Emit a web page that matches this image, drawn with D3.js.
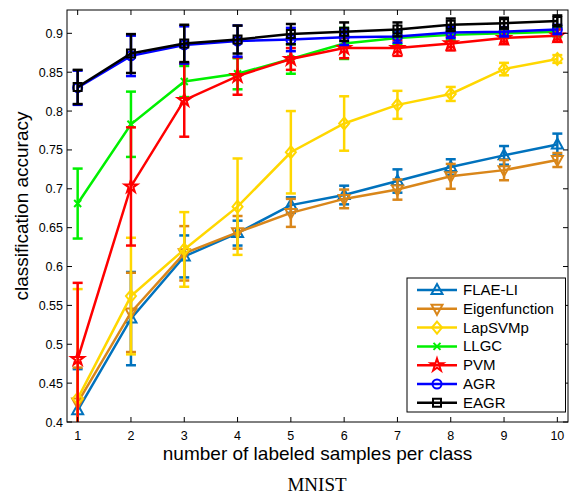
<!DOCTYPE html>
<html><head><meta charset="utf-8">
<script src="https://cdn.jsdelivr.net/npm/d3@7"></script>
<style>body{margin:0;background:#fff}svg{display:block}text{font-family:"Liberation Sans",Arial,sans-serif}</style>
</head><body>
<svg id="c" width="569" height="497"></svg>
<script>
const xValues = [1,2,3,4,5,6,7,8,9,10];
const yTicks = [0.4,0.45,0.5,0.55,0.6,0.65,0.7,0.75,0.8,0.85,0.9];
const seriesNames = ["FLAE-LI","Eigenfunction","LapSVMp","LLGC","PVM","AGR","EAGR"];
const seriesColors = ["#0072BD","#D9861A","#FFD700","#00F000","#FF0000","#0000FF","#000000"];
const seriesMarkers = ["triUp","triDown","diamond","cross","star","circle","square"];
const flaeMean  = [0.415,0.533,0.613,0.643,0.679,0.692,0.710,0.728,0.743,0.757];
const flaeErr   = [0.053,0.060,0.027,0.016,0.010,0.012,0.015,0.010,0.012,0.014];
const eigenMean = [0.425,0.541,0.617,0.644,0.669,0.687,0.699,0.716,0.724,0.737];
const eigenErr  = [0.045,0.051,0.035,0.021,0.018,0.012,0.013,0.016,0.013,0.009];
const lapMean   = [0.430,0.562,0.622,0.677,0.747,0.784,0.808,0.822,0.854,0.867];
const lapErr    = [0.141,0.075,0.048,0.062,0.053,0.035,0.018,0.009,0.008,0.005];
const llgcMean  = [0.681,0.783,0.838,0.848,0.867,0.887,0.894,0.898,0.900,0.902];
const llgcErr   = [0.045,0.042,0.020,0.020,0.019,0.020,0.008,0.007,0.006,0.006];
const pvmMean   = [0.481,0.703,0.814,0.845,0.867,0.881,0.881,0.887,0.894,0.897];
const pvmErr    = [0.098,0.076,0.047,0.024,0.014,0.013,0.010,0.009,0.008,0.008];
const agrMean   = [0.830,0.871,0.885,0.890,0.892,0.895,0.896,0.901,0.902,0.905];
const agrErr    = [0.022,0.026,0.024,0.020,0.015,0.010,0.008,0.007,0.006,0.006];
const eagrMean  = [0.831,0.874,0.887,0.892,0.899,0.902,0.905,0.911,0.913,0.916];
const eagrErr   = [0.022,0.025,0.024,0.018,0.013,0.012,0.009,0.008,0.007,0.007];

const means = [flaeMean,eigenMean,lapMean,llgcMean,pvmMean,agrMean,eagrMean];
const errs = [flaeErr,eigenErr,lapErr,llgcErr,pvmErr,agrErr,eagrErr];

const L=67,R=568,T=10,B=422;
const x = d3.scaleLinear().domain([0.8,10.2]).range([L,R]);
const y = d3.scaleLinear().domain([0.4,0.93]).range([B,T]);
const svg = d3.select("#c");

svg.append("defs").append("clipPath").attr("id","clip").append("rect")
  .attr("x",L).attr("y",T).attr("width",R-L).attr("height",B-T);

function markerPath(type){
  const p = d3.path();
  switch(type){
    case "triUp": p.moveTo(0,-6);p.lineTo(5.5,4);p.lineTo(-5.5,4);p.closePath();break;
    case "triDown": p.moveTo(0,6);p.lineTo(5.5,-4);p.lineTo(-5.5,-4);p.closePath();break;
    case "diamond": p.moveTo(0,-6);p.lineTo(5,0);p.lineTo(0,6);p.lineTo(-5,0);p.closePath();break;
    case "cross": p.moveTo(-3.5,-3.5);p.lineTo(3.5,3.5);p.moveTo(3.5,-3.5);p.lineTo(-3.5,3.5);break;
    case "circle": p.arc(0,0,4.5,0,2*Math.PI);break;
    case "square": p.rect(-4,-4,8,8);break;
    case "star": return d3.symbol(d3.symbolStar,50)();
  }
  return p.toString();
}

const plot = svg.append("g").attr("clip-path","url(#clip)");
const line = d3.line().x((d,i)=>x(xValues[i])).y(d=>y(d));
means.forEach((m,s)=>{
  const g = plot.append("g").attr("stroke",seriesColors[s]).attr("fill","none").attr("stroke-width",2.5);
  g.append("path").attr("d",line(m));
  m.forEach((v,i)=>{
    const cx=x(xValues[i]), e=errs[s][i];
    g.append("line").attr("x1",cx).attr("x2",cx).attr("y1",y(v-e)).attr("y2",y(v+e));
    g.append("line").attr("x1",cx-5).attr("x2",cx+5).attr("y1",y(v-e)).attr("y2",y(v-e));
    g.append("line").attr("x1",cx-5).attr("x2",cx+5).attr("y1",y(v+e)).attr("y2",y(v+e));
    g.append("path").attr("d",markerPath(seriesMarkers[s])).attr("transform",`translate(${cx},${y(v)})`).attr("stroke-width",2);
  });
});

// box and ticks
svg.append("rect").attr("x",L).attr("y",T).attr("width",R-L).attr("height",B-T).attr("fill","none").attr("stroke","#000").attr("stroke-width",1);
const tk = svg.append("g").attr("stroke","#000").attr("stroke-width",1);
xValues.forEach(v=>{
  tk.append("line").attr("x1",x(v)).attr("x2",x(v)).attr("y1",B).attr("y2",B-5);
  tk.append("line").attr("x1",x(v)).attr("x2",x(v)).attr("y1",T).attr("y2",T+5);
});
yTicks.forEach(v=>{
  tk.append("line").attr("x1",L).attr("x2",L+5).attr("y1",y(v)).attr("y2",y(v));
  tk.append("line").attr("x1",R).attr("x2",R-5).attr("y1",y(v)).attr("y2",y(v));
});
svg.append("g").selectAll("text").data(xValues).join("text")
  .attr("x",d=>x(d)).attr("y",440).attr("text-anchor","middle").attr("font-size",12.5).text(d=>d);
svg.append("g").selectAll("text").data(yTicks).join("text")
  .attr("x",63).attr("y",d=>y(d)+4.5).attr("text-anchor","end").attr("font-size",12.5).text(d=>String(+d.toFixed(2)));
svg.append("text").attr("x",317.5).attr("y",460).attr("text-anchor","middle").attr("font-size",19).text("number of labeled samples per class");
svg.append("text").attr("transform","translate(28,206) rotate(-90)").attr("text-anchor","middle").attr("font-size",19).text("classification accuracy");
svg.append("text").attr("x",317).attr("y",491).attr("text-anchor","middle").attr("font-size",19)
  .style("font-family","'Liberation Serif','Times New Roman',serif").text("MNIST");

// legend
const lg = svg.append("g");
lg.append("rect").attr("x",407).attr("y",278).attr("width",158.5).attr("height",134).attr("fill","#fff").attr("stroke","#000").attr("stroke-width",1);
seriesNames.forEach((n,s)=>{
  const ly = 290 + s*18.8;
  const g = lg.append("g").attr("stroke",seriesColors[s]).attr("fill","none");
  g.append("line").attr("x1",417).attr("x2",457).attr("y1",ly).attr("y2",ly).attr("stroke-width",2.5);
  g.append("path").attr("d",markerPath(seriesMarkers[s])).attr("transform",`translate(437,${ly})`).attr("stroke-width",2);
  lg.append("text").attr("x",463).attr("y",ly+5).attr("font-size",15).text(n);
});
</script>
</body></html>
